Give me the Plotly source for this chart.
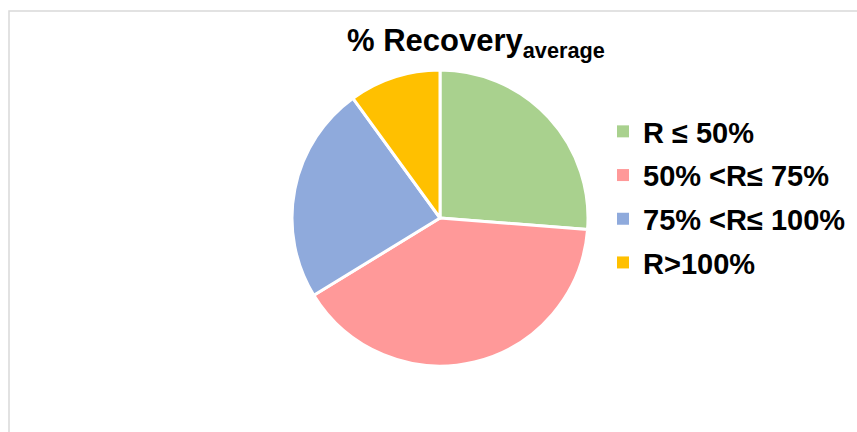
import plotly.graph_objects as go

# Recovery classes and number of results in each
categories = ["R ≤ 50%", "50% <R≤ 75%", "75% <R≤ 100%", "R>100%"]
counts = [21, 32, 19, 8]
colors = ["#A9D18E", "#FF9999", "#8FAADC", "#FFC000"]

W, H = 857, 432
FONT = "Liberation Sans, Arial, sans-serif"

fig = go.Figure()

fig.add_trace(go.Pie(
    labels=categories,
    values=counts,
    sort=False,
    direction="clockwise",
    rotation=0,
    marker=dict(colors=colors, line=dict(color="white", width=3)),
    textinfo="none",
    hoverinfo="label+value+percent",
    showlegend=False,
    domain=dict(x=[292 / W, 588 / W], y=[1 - 366 / H, 1 - 70 / H]),
))

# Legend entries as square markers, one group per class for spacing
for i, (cat, col) in enumerate(zip(categories, colors)):
    fig.add_trace(go.Scatter(
        x=[None], y=[None], mode="markers", name=cat,
        legendgroup=f"g{i}",
        marker=dict(symbol="square", size=11, color=col),
    ))

fig.update_layout(
    width=W, height=H,
    margin=dict(l=0, r=0, t=0, b=0),
    paper_bgcolor="white",
    plot_bgcolor="white",
    xaxis=dict(visible=False),
    yaxis=dict(visible=False),
    font=dict(family=FONT, color="black"),
    legend=dict(
        x=603 / W, y=1 - 106 / H, xanchor="left", yanchor="top",
        font=dict(size=29, family=FONT, color="black", weight="bold"),
        traceorder="grouped", tracegroupgap=3,
        itemsizing="constant",
        bgcolor="rgba(0,0,0,0)",
    ),
    annotations=[dict(
        text="<b>% Recovery<sub>average</sub></b>",
        x=476 / W, y=1 - 57 / H, xref="paper", yref="paper",
        xanchor="center", yanchor="bottom", yshift=-8,
        showarrow=False,
        font=dict(size=31, family=FONT, color="black"),
    )],
    shapes=[dict(
        type="rect", xref="paper", yref="paper",
        x0=9 / W, x1=1.2, y0=-0.2, y1=1 - 11 / H,
        line=dict(color="#D9D9D9", width=1.5),
        fillcolor="rgba(0,0,0,0)", layer="below",
    )],
)

fig.write_html("out.html")
